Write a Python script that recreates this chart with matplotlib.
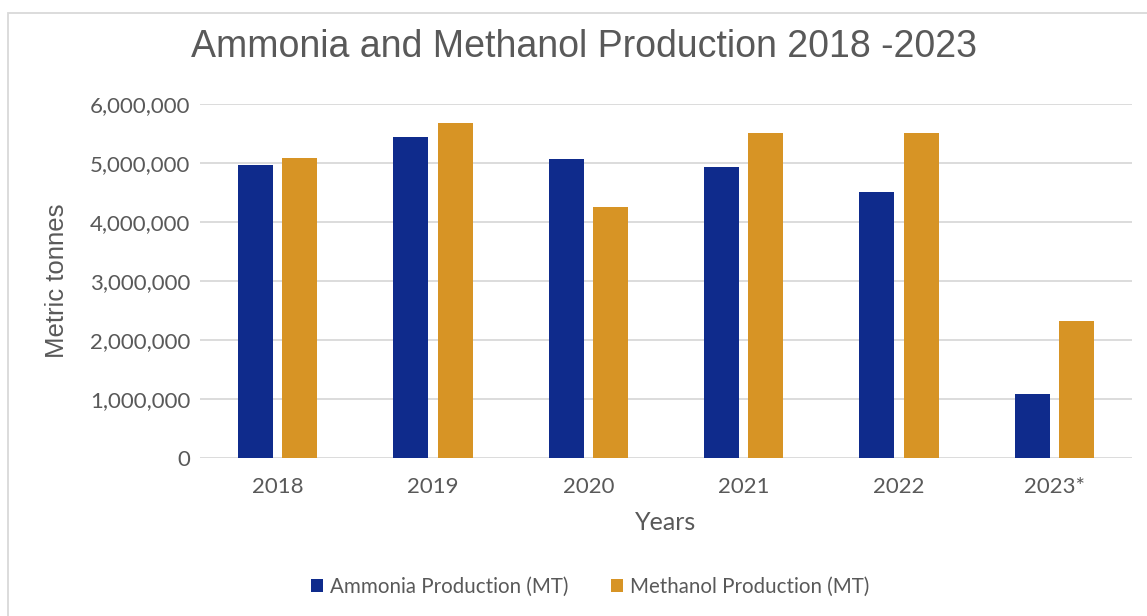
import matplotlib
matplotlib.use("Agg")
import matplotlib.pyplot as plt
import numpy as np
from matplotlib.ticker import FuncFormatter
from matplotlib.patches import Rectangle

years = ["2018", "2019", "2020", "2021", "2022", "2023*"]
ammonia = [4970000, 5440000, 5070000, 4930000, 4510000, 1080000]
methanol = [5080000, 5670000, 4260000, 5510000, 5500000, 2320000]
yticks = [0, 1000000, 2000000, 3000000, 4000000, 5000000, 6000000]

c_amm = "#0F2B8C"
c_met = "#D79425"
txt = "#595959"

fig = plt.figure(figsize=(11.47, 6.16), dpi=100)
fig.patch.set_facecolor("white")
# outer chart frame
fig.patches.append(Rectangle((8/1147, -0.05), 1.2, 1 - 13/616 + 0.05, transform=fig.transFigure,
                             fill=False, edgecolor="#D9D9D9", linewidth=1.3))

ax = fig.add_axes([200/1147, 1 - 457.7/616, 932/1147, (457.7 - 104)/616])
x = np.arange(len(years))
w = 0.226
off = 0.142
ax.bar(x - off, ammonia, width=w, color=c_amm, label="Ammonia Production (MT)", zorder=3)
ax.bar(x + off, methanol, width=w, color=c_met, label="Methanol Production (MT)", zorder=3)

ax.set_xlim(-0.5, len(years) - 0.5)
ax.set_ylim(0, 6000000)
ax.set_yticks(yticks)
ax.yaxis.set_major_formatter(FuncFormatter(lambda v, p: f"{int(v):,}"))
ax.set_xticks(x)
ax.set_xticklabels(years)
ax.grid(axis="y", color="#D9D9D9", linewidth=1.3, zorder=0)
for s in ax.spines.values():
    s.set_visible(False)
ax.tick_params(axis="both", length=0, labelsize=16, colors=txt, labelfontfamily="Lato")
ax.tick_params(axis="y", pad=7)
ax.tick_params(axis="x", pad=14)

ax.set_ylabel("Metric tonnes", fontsize=18.5, color=txt, family="Liberation Sans", labelpad=15)
ax.set_xlabel("Years", fontsize=18, color=txt, family="Lato", labelpad=10)

fig.text(584/1147, 1 - 47/616, "Ammonia and Methanol Production 2018 -2023", ha="center", va="center",
         fontsize=27, color=txt, family="Liberation Sans")

fig.legend(loc="center", bbox_to_anchor=(590/1147, 1 - 587/616), ncol=2, frameon=False,
           handlelength=0.6, handleheight=0.6, handletextpad=0.3, columnspacing=2.1,
           prop={"family": "Lato", "size": 14.8}, labelcolor=txt)

fig.savefig("out.png", dpi=100, facecolor="white")
